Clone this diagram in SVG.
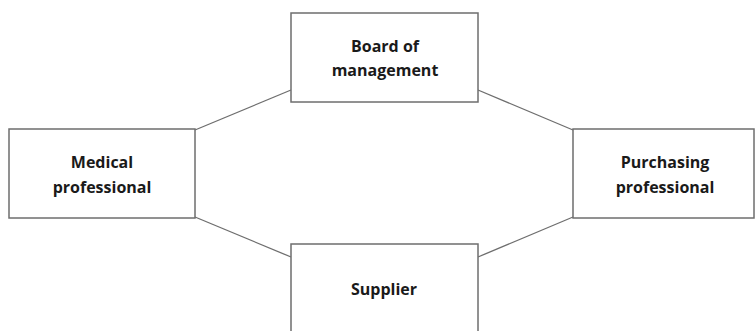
<svg xmlns="http://www.w3.org/2000/svg" width="755" height="331" viewBox="0 0 755 331">
<style>
.box{fill:#fff;stroke:#6e6e6e;stroke-width:1.5}
.lbl{font-family:"Open Sans","Noto Sans","Liberation Sans",sans-serif;font-weight:bold;font-size:16px;fill:#1a1a1a;text-anchor:middle}
.conn{stroke:#6e6e6e;stroke-width:1.3;fill:none}
</style>
<rect width="755" height="331" fill="#fff"/>
<g id="connectors">
<line class="conn" x1="195" y1="130" x2="291" y2="90"/>
<line class="conn" x1="478" y1="90" x2="573" y2="130"/>
<line class="conn" x1="195" y1="217" x2="291" y2="257"/>
<line class="conn" x1="478" y1="257" x2="573" y2="217"/>
</g>
<g id="board">
<rect class="box" x="291" y="13" width="187" height="89"/>
<text class="lbl" x="385" y="52">Board of</text>
<text class="lbl" x="385" y="76">management</text>
</g>
<g id="medical">
<rect class="box" x="9" y="129" width="186" height="89"/>
<text class="lbl" x="102" y="168">Medical</text>
<text class="lbl" x="102" y="193">professional</text>
</g>
<g id="purchasing">
<rect class="box" x="573" y="129" width="181" height="89"/>
<text class="lbl" x="665" y="168">Purchasing</text>
<text class="lbl" x="665" y="193">professional</text>
</g>
<g id="supplier">
<rect class="box" x="291" y="244" width="187" height="100"/>
<text class="lbl" x="384" y="295">Supplier</text>
</g>
</svg>
